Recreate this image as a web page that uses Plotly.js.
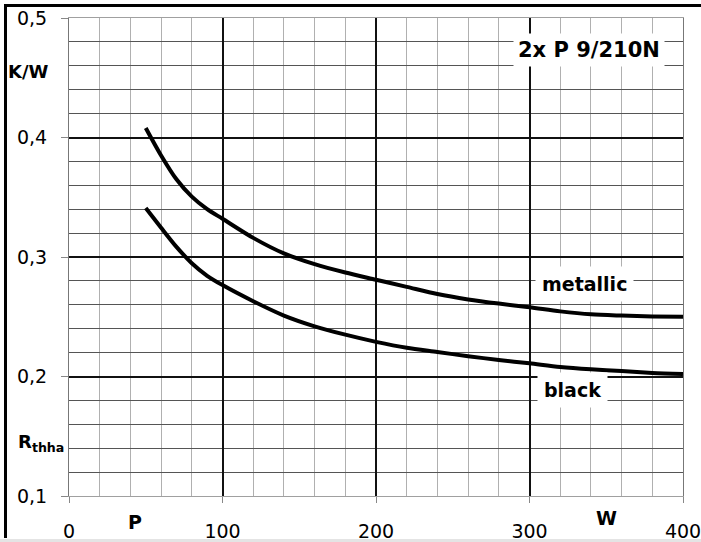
<!DOCTYPE html>
<html>
<head>
<meta charset="utf-8">
<script src="https://cdn.plot.ly/plotly-3.0.1.min.js"></script>
<style>
  html, body { margin: 0; padding: 0; background: #ffffff; }
  #wrap { position: relative; width: 701px; height: 542px; overflow: hidden; }
  #chart { position: absolute; left: 0; top: 0; width: 701px; height: 542px; }
  .frame { position: absolute; pointer-events: none; }
</style>
</head>
<body>
<div id="wrap">
  <div id="chart"></div>
  <div class="frame" style="left:4px; top:4px; width:697px; height:3px; background:#000;"></div>
  <div class="frame" style="left:4px; top:4px; width:3px; height:534px; background:#000;"></div>
  <div class="frame" style="left:0px; top:539px; width:701px; height:3px; background:#e4e4e4;"></div>
</div>
<script>
// Power dissipation P (W)
const power = [50, 60, 70, 80, 90, 100, 120, 140, 160, 180, 200, 220, 240, 260, 280, 300, 320, 340, 360, 380, 400];
// Thermal resistance R_thha (K/W), metallic heatsink
const metallic = [0.408, 0.385, 0.365, 0.3505, 0.340, 0.332, 0.316, 0.303, 0.294, 0.287, 0.281, 0.275, 0.269, 0.2645, 0.261, 0.258, 0.2545, 0.252, 0.251, 0.2503, 0.250];
// Thermal resistance R_thha (K/W), black heatsink
const black = [0.341, 0.3245, 0.3085, 0.2948, 0.2843, 0.2765, 0.263, 0.251, 0.242, 0.235, 0.229, 0.224, 0.2205, 0.217, 0.2138, 0.211, 0.208, 0.206, 0.2045, 0.203, 0.202];

const xTicks = [0, 100, 200, 300, 400];
const xLabels = ['0', '100', '200', '300', '400'];
const yTicks = [0.1, 0.2, 0.3, 0.4, 0.5];
const yLabels = ['0,1', '0,2', '0,3', '0,4', '0,5'];
// Fine grid positions (between the labelled lines)
const xMinor = [20, 40, 60, 80, 120, 140, 160, 180, 220, 240, 260, 280, 320, 340, 360, 380];
const yMinor = [0.12, 0.14, 0.16, 0.18, 0.22, 0.24, 0.26, 0.28, 0.32, 0.34, 0.36, 0.38, 0.42, 0.44, 0.46, 0.48];

const seriesNames = ['metallic', 'black'];
const heatsinkLabel = '2x P 9/210N';

const FONT = 'DejaVu Sans, Arial, sans-serif';

const traces = [
  { x: power, y: metallic, name: seriesNames[0], type: 'scatter', mode: 'lines',
    line: { color: '#000', width: 4, shape: 'spline', smoothing: 0.8 }, hoverinfo: 'skip' },
  { x: power, y: black, name: seriesNames[1], type: 'scatter', mode: 'lines',
    line: { color: '#000', width: 4, shape: 'spline', smoothing: 0.8 }, hoverinfo: 'skip' }
];

const layout = {
  width: 701, height: 542,
  margin: { l: 69, r: 18, t: 18, b: 46, pad: 0 },
  paper_bgcolor: '#fff', plot_bgcolor: '#fff',
  showlegend: false,
  font: { family: FONT, color: '#000', size: 19 },
  xaxis: {
    range: [0, 400], tickmode: 'array', tickvals: xTicks, ticktext: xLabels,
    showgrid: true, gridcolor: '#111', gridwidth: 2, zeroline: false,
    showline: true, mirror: true, linecolor: '#a0a0a0', linewidth: 1,
    ticks: 'outside', ticklen: 6, tickcolor: '#888', tickwidth: 1,
    ticklabelstandoff: 12, ticklabeloverflow: 'allow',
    tickfont: { family: FONT, size: 19, color: '#000' },
    minor: { tickmode: 'array', tickvals: xMinor, showgrid: true, gridcolor: '#b0b0b0', gridwidth: 1, ticks: '' },
    fixedrange: true
  },
  yaxis: {
    range: [0.1, 0.5], tickmode: 'array', tickvals: yTicks, ticktext: yLabels,
    showgrid: true, gridcolor: '#111', gridwidth: 2, zeroline: false,
    showline: true, mirror: true, linecolor: '#777', linewidth: 1,
    ticks: 'outside', ticklen: 7, tickcolor: '#888', tickwidth: 1,
    ticklabelstandoff: 10,
    tickfont: { family: FONT, size: 19, color: '#000' },
    minor: { tickmode: 'array', tickvals: yMinor, showgrid: true, gridcolor: '#555', gridwidth: 1, ticks: '' },
    fixedrange: true
  },
  annotations: [
    { x: 339, y: 0.4732, xref: 'x', yref: 'y', text: '<b>' + heatsinkLabel + '</b>', showarrow: false,
      font: { family: FONT, size: 21, color: '#000' }, bgcolor: '#fff', borderpad: 4 },
    { x: 336, y: 0.2774, xref: 'x', yref: 'y', text: '<b>' + seriesNames[0] + '</b>', showarrow: false,
      font: { family: FONT, size: 19, color: '#000' }, bgcolor: '#fff', borderpad: 6 },
    { x: 328, y: 0.1887, xref: 'x', yref: 'y', text: '<b>' + seriesNames[1] + '</b>', showarrow: false,
      font: { family: FONT, size: 19, color: '#000' }, bgcolor: '#fff', borderpad: 6 },
    { x: -0.103, y: 0.889, xref: 'paper', yref: 'paper', xanchor: 'left', yanchor: 'middle',
      text: '<b>K/W</b>', showarrow: false, font: { family: FONT, size: 18, color: '#000' } },
    { x: -0.087, y: 0.111, xref: 'paper', yref: 'paper', xanchor: 'left', yanchor: 'middle',
      text: '<b>R<sub>thha</sub></b>', showarrow: false, font: { family: FONT, size: 18, color: '#000' } },
    { x: 0.107, y: -0.054, xref: 'paper', yref: 'paper', xanchor: 'center', yanchor: 'middle',
      text: '<b>P</b>', showarrow: false, font: { family: FONT, size: 19, color: '#000' } },
    { x: 0.876, y: -0.046, xref: 'paper', yref: 'paper', xanchor: 'center', yanchor: 'middle',
      text: '<b>W</b>', showarrow: false, font: { family: FONT, size: 19, color: '#000' } }
  ]
};

Plotly.newPlot('chart', traces, layout, { staticPlot: true, displayModeBar: false });
</script>
</body>
</html>
